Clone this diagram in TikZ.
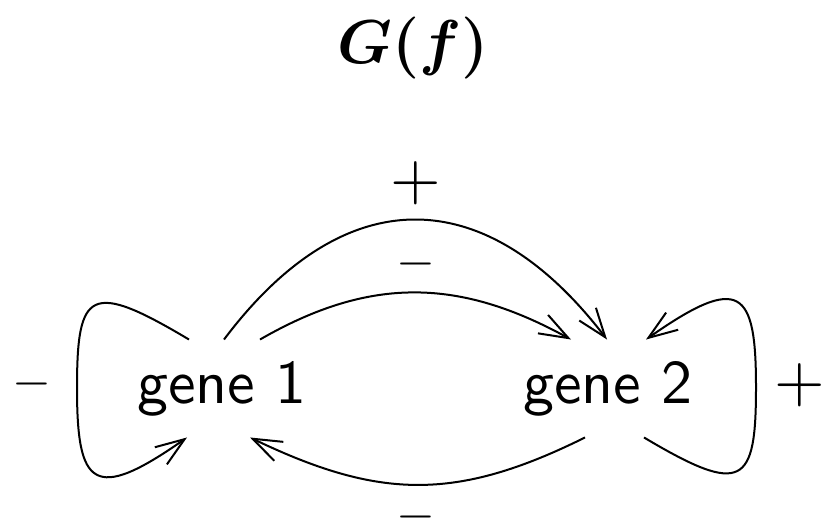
\documentclass[tikz,border=0pt]{standalone}
\usepackage{amsmath}
\usetikzlibrary{arrows.meta}
\begin{document}
\begin{tikzpicture}[x=1pt,y=-1pt,
  every node/.style={inner sep=0pt,outer sep=0pt},
  gene/.style={font=\sffamily,scale=6.2,minimum height=15.8pt},
  plussign/.style={scale=6.5},
  minussign/.style={scale=5.0,text height=3pt,text depth=-2pt},
  conn/.style={line width=2pt,-{Straight Barb[length=29pt,width=21pt]}}]
\path[use as bounding box] (0,0) rectangle (827,526);
\node[scale=2.49] (ttl) at (413,48) {\Huge $\boldsymbol{G(f)}$};
\node[gene] (g1) at (222,388.5) {gene 1};
\node[gene] (g2) at (608,388.5) {gene 2};
\node[plussign] (p1) at (416,183) {$+$};
\node[minussign] (m1) at (416,269) {$-$};
\node[minussign] (m2) at (32,389) {$-$};
\node[plussign] (p2) at (800,385) {$+$};
\node[minussign] (m3) at (416,522) {$-$};
\coordinate (l1) at (77,388);
\coordinate (l2) at (756,387);
\draw[conn] ([xshift=2pt]g1.north) .. controls +(121,-161) and +(-121,-158) .. ([xshift=-1pt]g2.north);
\draw[conn] ([xshift=38pt]g1.north) .. controls +(111,-64) and +(-111,-61) .. ([xshift=-37pt]g2.north);
\draw[conn] ([xshift=-23pt]g2.south) .. controls +(-129,64) and +(129,62) .. ([xshift=28pt]g1.south);
\draw[conn] ([xshift=-33pt]g1.north) .. controls +(-99,-59) and +(0,-98) .. (l1) .. controls +(0,98) and +(-94,66) .. ([xshift=-35pt]g1.south);
\draw[conn] ([xshift=36pt]g2.south) .. controls +(99,59) and +(0,98) .. (l2) .. controls +(0,-98) and +(94,-66) .. ([xshift=38pt]g2.north);
\end{tikzpicture}
\end{document}
